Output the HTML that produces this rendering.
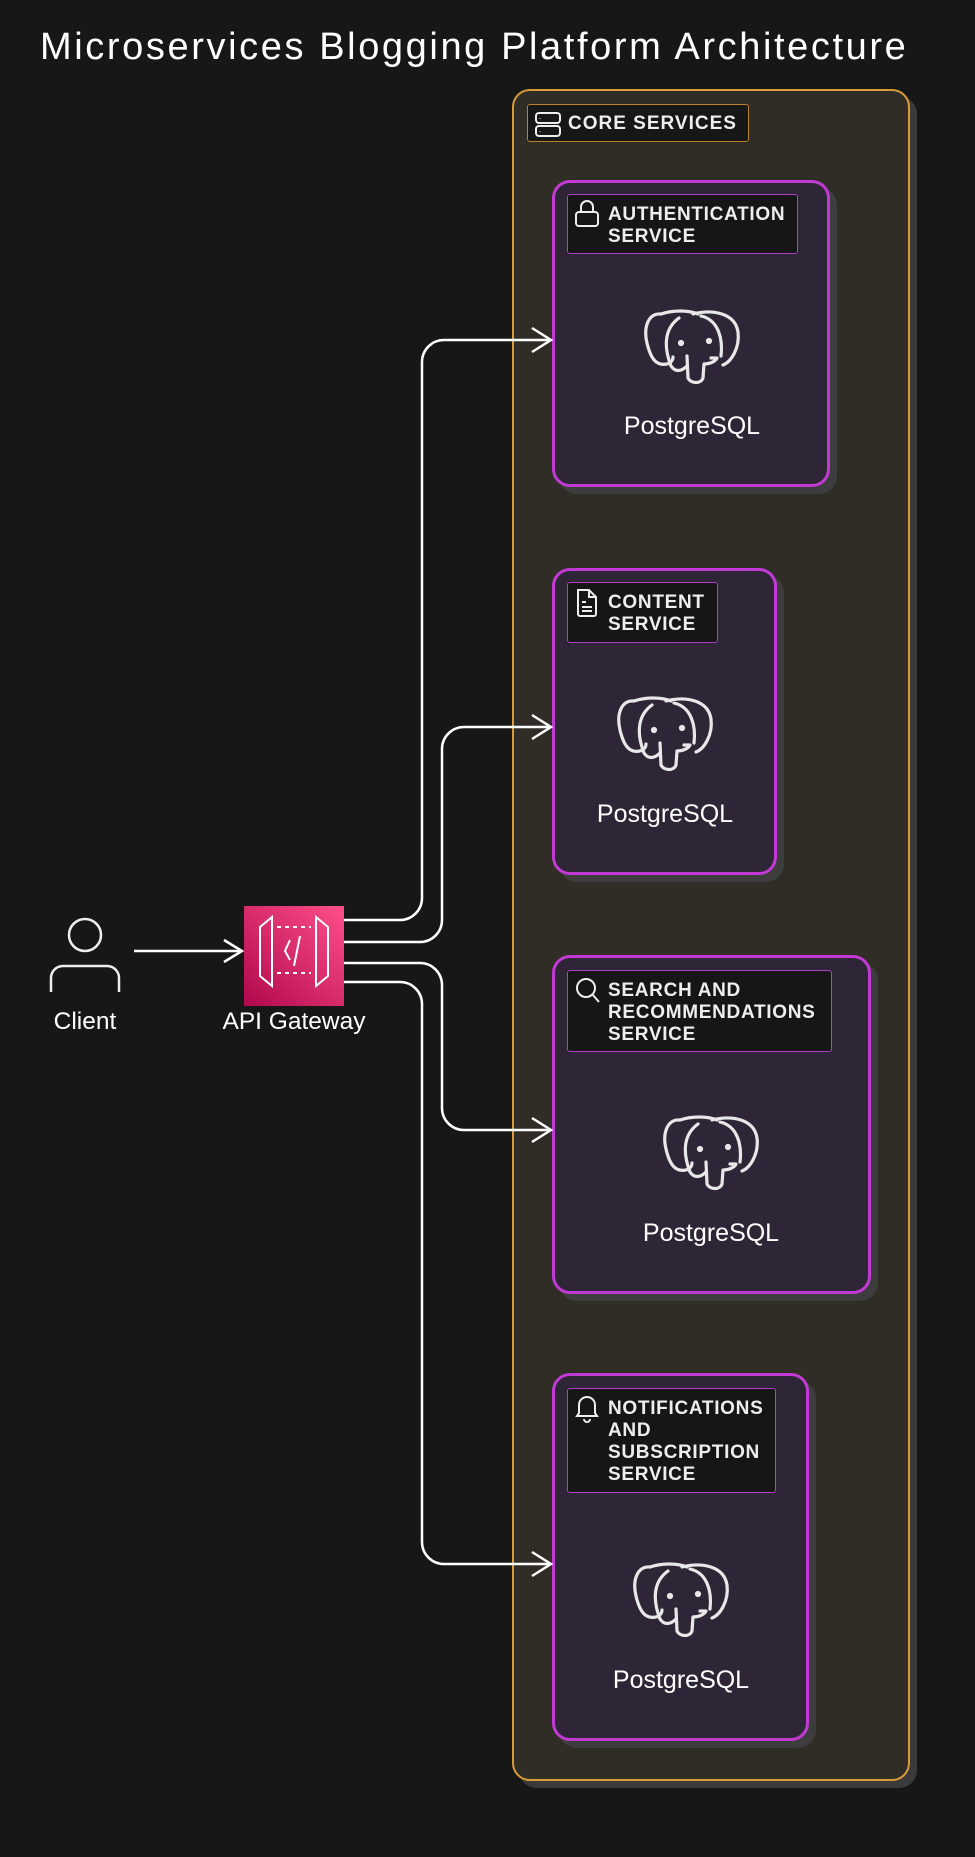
<!DOCTYPE html>
<html><head><meta charset="utf-8"><style>
html,body{margin:0;padding:0;background:#171717;}
body{width:975px;height:1857px;position:relative;overflow:hidden;font-family:"Liberation Sans",sans-serif;color:#f2f2f2;}
.abs{position:absolute;}
.title{left:40px;top:26px;font-size:38px;letter-spacing:2.6px;color:#fff;}
.container{left:512px;top:89px;width:398px;height:1692px;background:#302d27;border:2px solid #d99a3a;border-radius:18px;box-sizing:border-box;box-shadow:7px 7px 0 #3a3a3a;}
.svc{background:#2e2536;border:3px solid #c23ad4;border-radius:18px;box-sizing:border-box;box-shadow:7px 7px 0 #3d3d3d;}
.lbl{background:#161616;border:1.5px solid #b33fc6;border-radius:3px;box-sizing:border-box;font-size:19px;line-height:22px;font-weight:bold;letter-spacing:0.7px;color:#eee;padding-left:40px;padding-top:9px;}
.core{left:527px;top:104px;width:222px;height:38px;background:#171717;border:1.5px solid #b8802f;border-radius:3px;box-sizing:border-box;font-size:19px;line-height:38px;padding-left:40px;font-weight:bold;letter-spacing:1px;color:#eee;}
.pg{font-size:25px;color:#fff;text-align:center;width:200px;}
.lab{font-size:24.5px;color:#fff;text-align:center;width:200px;}
</style></head><body>
<div class="abs title">Microservices Blogging Platform Architecture</div>
<div class="abs container"></div>
<div class="abs core">CORE SERVICES</div>
<svg class="abs" style="left:534px;top:111px" width="28" height="28" viewBox="0 0 28 28" fill="none" stroke="#eee" stroke-width="2"><rect x="2" y="2" width="24" height="10" rx="3"/><rect x="2" y="15" width="24" height="10" rx="3"/><line x1="6" y1="7" x2="6" y2="7.5"/><line x1="6" y1="20" x2="6" y2="20.5"/></svg>

<div class="abs svc" style="left:552px;top:180px;width:278px;height:307px"></div>
<div class="abs lbl" style="left:567px;top:194px;width:231px;height:60px">AUTHENTICATION<br>SERVICE</div>
<svg class="abs" style="left:574px;top:199px" width="26" height="30" viewBox="0 0 26 30" fill="none" stroke="#eee" stroke-width="2"><path d="M7,13 V8 A6,6 0 0 1 19,8 V13"/><rect x="2" y="13" width="22" height="14" rx="3"/></svg>

<div class="abs svc" style="left:552px;top:568px;width:225px;height:307px"></div>
<div class="abs lbl" style="left:567px;top:582px;width:151px;height:61px">CONTENT<br>SERVICE</div>
<svg class="abs" style="left:575px;top:588px" width="24" height="30" viewBox="0 0 24 30" fill="none" stroke="#eee" stroke-width="2"><path d="M3,2 H14 L21,9 V26 A2,2 0 0 1 19,28 H5 A2,2 0 0 1 3,26 Z"/><path d="M14,2 V9 H21"/><line x1="7" y1="14" x2="11" y2="14"/><line x1="7" y1="19" x2="17" y2="19"/><line x1="7" y1="23" x2="17" y2="23"/></svg>

<div class="abs svc" style="left:552px;top:955px;width:319px;height:339px"></div>
<div class="abs lbl" style="left:567px;top:970px;width:265px;height:82px">SEARCH AND<br>RECOMMENDATIONS<br>SERVICE</div>
<svg class="abs" style="left:574px;top:976px" width="28" height="30" viewBox="0 0 28 30" fill="none" stroke="#eee" stroke-width="2"><circle cx="12" cy="12" r="9"/><line x1="18.5" y1="18.5" x2="25" y2="26"/></svg>

<div class="abs svc" style="left:552px;top:1373px;width:257px;height:368px"></div>
<div class="abs lbl" style="left:567px;top:1388px;width:209px;height:105px">NOTIFICATIONS<br>AND<br>SUBSCRIPTION<br>SERVICE</div>
<svg class="abs" style="left:574px;top:1393px" width="26" height="30" viewBox="0 0 26 30" fill="none" stroke="#eee" stroke-width="2"><path d="M5,20 V12 A8,8 0 0 1 21,12 V20 L23,23 H3 Z"/><path d="M10,26 A3,3 0 0 0 16,26"/></svg>

<svg class="abs" style="left:0;top:0" width="975" height="1857" fill="none">
<defs>
<g id="el" stroke="#e8e8e8" stroke-width="3.2" stroke-linecap="round" stroke-linejoin="round">
<path d="M18,4 C6,3 0,16 4,33 C8,50 14,56 24,54 C28,53 30,50 30,47"/>
<path d="M18,4 C30,0 45,0 55,4"/>
<path d="M50,4 C70,-1 92,3 95,22 C97,38 88,52 80,55"/>
<path d="M58,6 C76,10 80,30 78,46"/>
<path d="M36,8 C22,18 20,35 28,56 C32,62 38,62 44,56"/>
<path d="M44,46 L45,68 C48,74 58,74 60,68 L61,54 C66,54 72,52 74,48 L68,48"/>
<circle cx="38" cy="33" r="1.5" fill="#e8e8e8"/><circle cx="66" cy="31" r="1.5" fill="#e8e8e8"/>
</g>
</defs>
<use href="#el" x="643" y="310"/>
<use href="#el" x="616" y="697"/>
<use href="#el" x="662" y="1116"/>
<use href="#el" x="632" y="1563"/>
<g stroke="#fff" stroke-width="2.5">
<path d="M134,951 H242"/><path d="M224,940 L242,951 L224,962"/>
<path d="M344,920 H400 A22,22 0 0 0 422,898 V362 A22,22 0 0 1 444,340 H550"/><path d="M532,328 L551,340 L532,352"/>
<path d="M344,942 H420 A22,22 0 0 0 442,920 V749 A22,22 0 0 1 464,727 H550"/><path d="M532,715 L551,727 L532,739"/>
<path d="M344,963 H420 A22,22 0 0 1 442,985 V1108 A22,22 0 0 0 464,1130 H550"/><path d="M532,1118 L551,1130 L532,1142"/>
<path d="M344,982 H400 A22,22 0 0 1 422,1004 V1542 A22,22 0 0 0 444,1564 H550"/><path d="M532,1552 L551,1564 L532,1576"/>
</g>
<g stroke="#eee" stroke-width="2.5">
<circle cx="85" cy="935" r="16"/>
<path d="M51,992 V978 A12,12 0 0 1 63,966 H107 A12,12 0 0 1 119,978 V992"/>
</g>
<defs><linearGradient id="pk" x1="0" y1="1" x2="1" y2="0"><stop offset="0" stop-color="#b0084d"/><stop offset="1" stop-color="#ff4f8b"/></linearGradient></defs>
<rect x="244" y="906" width="100" height="100" fill="url(#pk)"/>
<g stroke="#fff" stroke-width="2">
<path d="M260,927 L272,917 V986 L260,976 Z"/>
<path d="M328,927 L316,917 V986 L328,976 Z"/>
<path d="M277,927 H311 M277,973 H311" stroke-dasharray="4,4"/>
<path d="M290,940 L285,951 L290,960 M300,936 L294,966"/>
</g>
</svg>
<div class="abs pg" style="left:592px;top:412px">PostgreSQL</div>
<div class="abs pg" style="left:565px;top:800px">PostgreSQL</div>
<div class="abs pg" style="left:611px;top:1219px">PostgreSQL</div>
<div class="abs pg" style="left:581px;top:1666px">PostgreSQL</div>
<div class="abs lab" style="left:-15px;top:1008px">Client</div>
<div class="abs lab" style="left:194px;top:1008px">API Gateway</div>
</body></html>
